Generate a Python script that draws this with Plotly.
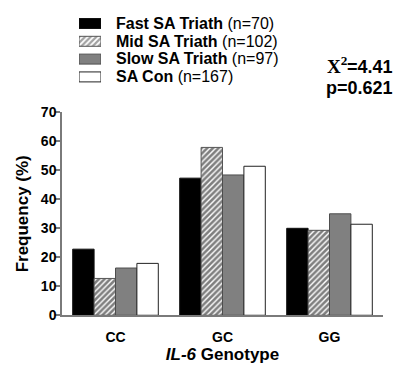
import plotly.graph_objects as go

# IL-6 genotype frequencies (%) by group
genotypes = ["CC", "GC", "GG"]
fast_sa = [22.8, 47.3, 30.0]
mid_sa = [12.7, 57.9, 29.3]
slow_sa = [16.3, 48.4, 35.0]
sa_con = [17.9, 51.4, 31.4]

group_names = ["Fast SA Triath", "Mid SA Triath", "Slow SA Triath", "SA Con"]
group_n = ["(n=70)", "(n=102)", "(n=97)", "(n=167)"]
tick_vals = [0, 10, 20, 30, 40, 50, 60, 70]

FONT = "Liberation Sans, Arial, sans-serif"
SERIF = "Liberation Serif, Times New Roman, serif"
W, H = 398, 374

fills = ["#000000", "#ffffff", "#808080", "#ffffff"]
patterns = ["", "/", "", ""]
outlines = ["#111111", "#555555", "#4d4d4d", "#222222"]
series = [fast_sa, mid_sa, slow_sa, sa_con]

fig = go.Figure()
for name, vals, fc, pat, lc in zip(group_names, series, fills, patterns, outlines):
    fig.add_trace(go.Bar(
        x=genotypes, y=vals, name=name, showlegend=False,
        marker=dict(color=fc, line=dict(color=lc, width=1),
                    pattern=dict(shape=pat, fgcolor="#000000", bgcolor="#ffffff",
                                 size=4, solidity=0.65)),
        xaxis="x", yaxis="y",
    ))

# legend swatches drawn on a small inset axis
rows = [3, 2, 1, 0]
fig.add_trace(go.Bar(
    x=[1, 1, 1, 1], y=rows, orientation="h", width=0.56, showlegend=False,
    marker=dict(color=fills, line=dict(color=outlines, width=1),
                pattern=dict(shape=patterns, fgcolor="#000000", bgcolor="#ffffff",
                             size=4, solidity=0.55)),
    xaxis="x2", yaxis="y2", hoverinfo="skip",
))

def px_x(p):
    return p / W

def px_y(p):
    return (H - p) / H

annotations = []
row_centers = [16.0, 34.6, 53.2, 71.8]
for name, n, yc in zip(group_names, group_n, row_centers):
    annotations.append(dict(
        x=px_x(114), y=px_y(yc), xref="paper", yref="paper",
        xanchor="left", yanchor="middle", showarrow=False,
        text=f"<b>{name}</b> {n}", font=dict(family=FONT, size=16, color="#000"),
    ))

# chi-square result
annotations.append(dict(
    x=px_x(350), y=px_y(60), xref="paper", yref="paper",
    xanchor="right", yanchor="middle", showarrow=False,
    text="<b>X<sup>2</sup></b>", font=dict(family=SERIF, size=19, color="#000"),
))
annotations.append(dict(
    x=px_x(395), y=px_y(62), xref="paper", yref="paper",
    xanchor="right", yanchor="middle", showarrow=False,
    text="<b>=4.41</b>", font=dict(family=FONT, size=18, color="#000"),
))
annotations.append(dict(
    x=px_x(395), y=px_y(84), xref="paper", yref="paper",
    xanchor="right", yanchor="middle", showarrow=False,
    text="<b>p=0.621</b>", font=dict(family=FONT, size=18, color="#000"),
))

axis_col = "#7a7a7a"
fig.update_layout(
    width=W, height=H,
    margin=dict(l=0, r=0, t=0, b=0),
    paper_bgcolor="#ffffff", plot_bgcolor="#ffffff",
    barmode="group", bargap=0.2, bargroupgap=0,
    font=dict(family=FONT, color="#000"),
    xaxis=dict(
        domain=[62 / W, 383 / W], range=[-0.5, 2.5],
        showline=True, linecolor=axis_col, linewidth=1.5,
        ticks="", showgrid=False, zeroline=False, ticklabelstandoff=8,
        tickfont=dict(family=FONT, size=14, weight="bold"),
        title=dict(text="<i>IL-6</i> Genotype", standoff=2,
                   font=dict(family=FONT, size=17, weight="bold")),
    ),
    yaxis=dict(
        domain=[53 / H, 265 / H], range=[0, 70],
        tickvals=tick_vals, ticks="outside", ticklen=5, tickwidth=1.5, tickcolor=axis_col,
        showline=True, linecolor=axis_col, linewidth=1.5,
        showgrid=False, zeroline=False, ticklabelstandoff=-4,
        tickfont=dict(family=FONT, size=14, weight="bold"),
        title=dict(text="Frequency (%)", standoff=8,
                   font=dict(family=FONT, size=17, weight="bold")),
    ),
    xaxis2=dict(domain=[79 / W, 101 / W], range=[0, 1], visible=False,
                fixedrange=True, anchor="y2"),
    yaxis2=dict(domain=[(H - 81.3) / H, (H - 6.9) / H], range=[-0.5, 3.5],
                visible=False, fixedrange=True, anchor="x2"),
    annotations=annotations,
)

fig.write_html("out.html")
